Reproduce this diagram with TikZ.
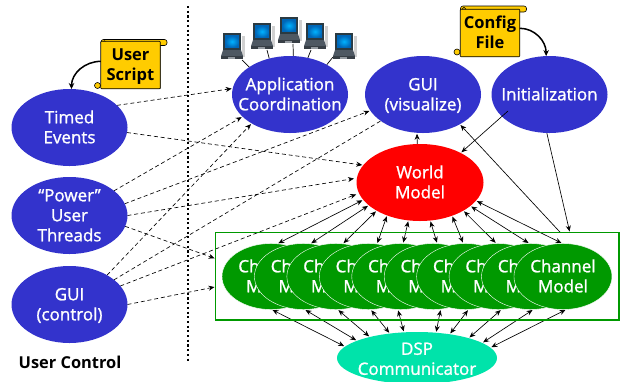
\documentclass[tikz,border=0pt]{standalone}
\usepackage{fontspec}
\setmainfont{Open Sans}
\newfontfamily\lblfont[FakeBold=1.2]{Open Sans}
\usetikzlibrary{shapes.geometric,arrows.meta,backgrounds}
\definecolor{bubble}{RGB}{51,51,204}
\definecolor{chgreen}{RGB}{0,153,0}
\definecolor{dspteal}{RGB}{0,227,170}
\definecolor{scrollyellow}{RGB}{255,204,0}
\definecolor{lapframe}{RGB}{42,58,66}
\definecolor{lapblue}{RGB}{0,120,215}
\definecolor{lapbase}{RGB}{78,88,98}
\newcommand\lbl[1]{\makebox[0pt]{\raisebox{-.36em}[0pt][0pt]{\begin{tabular}{@{}c@{}}#1\end{tabular}}}}
\tikzset{
  bub/.style={ellipse,minimum width=116pt,minimum height=77pt,inner sep=0pt,outer sep=0pt,fill=bubble,text=white,font=\lblfont\fontsize{17}{20}\selectfont},
  chan/.style={ellipse,minimum width=98pt,minimum height=66pt,inner sep=0pt,outer sep=0pt,fill=chgreen,draw=white,line width=.4pt,text=white,font=\lblfont\fontsize{17}{20}\selectfont},
  scrollbody/.style={rectangle,draw=black,line width=.6pt,fill=scrollyellow,rounded corners=.8pt,minimum width=59.5pt,minimum height=47.5pt,inner sep=0pt,outer sep=0pt,font=\bfseries\fontsize{16.5}{20}\selectfont},
  dsh/.style={line width=.65pt,dash pattern=on 4pt off 2.8pt,-{Stealth[length=6pt,width=5pt]},shorten <=0pt,shorten >=1pt},
  sol/.style={line width=.65pt,-{Stealth[length=6pt,width=5pt]},shorten >=1pt},
  dbl/.style={line width=.65pt,{Stealth[length=6pt,width=5pt]}-{Stealth[length=6pt,width=5pt]},shorten >=1pt,shorten <=1pt},
  curv/.style={line width=1.5pt,-{Stealth[length=6pt,width=5.5pt]}},
  wire/.style={line width=.7pt},
  laptop/.pic={
    \fill[black!18] (21,3) rectangle (24,24);
    \fill[lapframe] (2,0) rectangle (20,17);
    \shade[inner color=cyan!70!blue,outer color=lapblue!85!black] (4,2.5) rectangle (18,14.5);
    \fill[lapbase] (2,17) -- (20,17) -- (22,23) -- (0,23) -- cycle;
    \fill[lapbase!70!black] (0,23) rectangle (22,26);
    \fill[lapbase!60!white] (7,24) rectangle (14,25.5);
  },
}
\newcommand\scrollparts[2]{%
  \begin{scope}[shift={(#1,#2)}]
    \fill[black!45] (1,5) rectangle (60.8,50.3);
    \draw[line width=.6pt,fill=scrollyellow,rounded corners=2.5pt] (1,0.5) rectangle (67,6.5);
    \draw[line width=.6pt,fill=scrollyellow] (-2.5,46.5) circle (3pt);
    \draw[line width=.6pt] (4.5,3.5) circle (1.8pt);
  \end{scope}}
\begin{document}
\begin{tikzpicture}[x=1pt,y=-1pt]
\path[use as bounding box] (0,0) rectangle (621,381);
% laptops
\coordinate (lp1) at (242,60);
\coordinate (lp2) at (267,50);
\coordinate (lp3) at (293,44);
\coordinate (lp4) at (311,50);
\coordinate (lp5) at (333,57);
% separator
\coordinate (sepa) at (188,6);
\coordinate (sepb) at (188,362);
\draw[line width=2.1pt,dash pattern=on 2.1pt off 2.6pt] (sepa) -- (sepb);
% bubbles
\node[bub] (te) at (69.5,127.5) {\lbl{Timed\\Events}};
\node[bub] (pu) at (69.5,215.5) {\lbl{“Power”\\User\\Threads}};
\node[bub] (gc) at (69.5,304.5) {\lbl{GUI\\(control)}};
\node[bub] (ac) at (290,94.5) {\lbl{Application\\Coordination}};
\node[bub] (gv) at (423,94.5) {\lbl{GUI\\(visualize)}};
\node[bub] (in) at (549.5,94.5) {\lbl{Initialization}};
\node[bub,fill=red,minimum width=127pt] (wm) at (420,182.5) {\lbl{World\\Model}};
\node[bub,fill=dspteal,minimum width=160pt,minimum height=52pt] (ds) at (417,358) {\raisebox{-2pt}{\lbl{DSP\\Communicator}}};
% channel models
\foreach \i in {1,...,10}{
  \pgfmathsetmacro\cx{271+32.44*(\i-1)}
  \node[chan] (ch\i) at (\cx,276.5) {\lbl{Channel\\Model}};
}
\node[rectangle,draw=chgreen,line width=1.8pt,minimum width=403.5pt,minimum height=87.5pt,inner sep=0pt,outer sep=0pt] (box) at (417.25,276.25) {};
% scrolls
\scrollparts{100}{39}
\node[scrollbody] (us) at (130.5,65) {\lbl{User\\Script}};
\scrollparts{459.5}{5.5}
\node[scrollbody] (cf) at (490,33) {\lbl{Config\\File}};
\draw[curv] (us.173) to[out=180,in=90] (te.87);
\draw[curv] (cf.9.5) to[out=0,in=90] (in.95);
% laptops on top
\pic at (221,33) {laptop};
\pic at (251,23) {laptop};
\pic at (278,17) {laptop};
\pic at (304,23) {laptop};
\pic at (333,33) {laptop};
% line that lies over the Initialization bubble
\coordinate (instart) at (508,111);
\draw[sol] (instart) -- (wm.36.2);
\node[font=\bfseries\fontsize{16.4}{18}\selectfont] (uc) at (70,362) {User Control};
\begin{pgfonlayer}{background}
\draw[wire] (lp1) -- (ac.146);
\draw[wire] (lp2) -- (ac.120);
\draw[wire] (lp3) -- (ac.85.5);
\draw[wire] (lp4) -- (ac.64.4);
\draw[wire] (lp5) -- (ac.39.5);
\draw[dsh] (te.25.3) -- (ac.174.6);
\draw[dsh] (te.-5.5) -- (wm.163.3);
\draw[dsh] (pu.29) -- (ac.205.1);
\draw[dsh] (pu.12.4) -- (gv.197.7);
\draw[dsh,shorten >=3pt] (pu.0) -- (wm.176.2);
\draw[dsh] (pu.-11) -- (box.175.2);
\draw[dsh] (gc.38) -- (ac.217.8);
\draw[dsh,shorten >=-7pt] (gc.29.2) -- (gv.212);
\draw[dsh,shorten >=3pt] (gc.20.5) -- (wm.190.6);
\draw[dsh] (gc.0) -- (box.183.3);
\draw[sol] (wm.94.5) -- (gv.261.4);
\draw[sol] (box.17.3) -- (gv.321.6);
\draw[sol] (in.266.3) -- (box.16.3);
\foreach \i/\a/\b in {1/79.8/197.4,2/78.9/204.7,3/78/213.2,4/75.4/225.4,5/86.2/253.5,6/83.5/285.2,7/94.4/314.6,8/93.6/327.7,9/92.6/335.3,10/91.7/342.9}
  \draw[dbl] (wm.\b) -- (ch\i.\a);
\foreach \i/\a/\b in {1/271.7/171.1,2/272.7/164.8,3/273.5/156.4,4/274.5/138,5/265.3/117.4,6/283/53.5,7/275.7/36.9,8/276.6/21.6,9/275.9/13.8,10/276.7/8.3}
  \draw[dbl] (ch\i.\a) -- (ds.\b);
\end{pgfonlayer}
\end{tikzpicture}
\end{document}
